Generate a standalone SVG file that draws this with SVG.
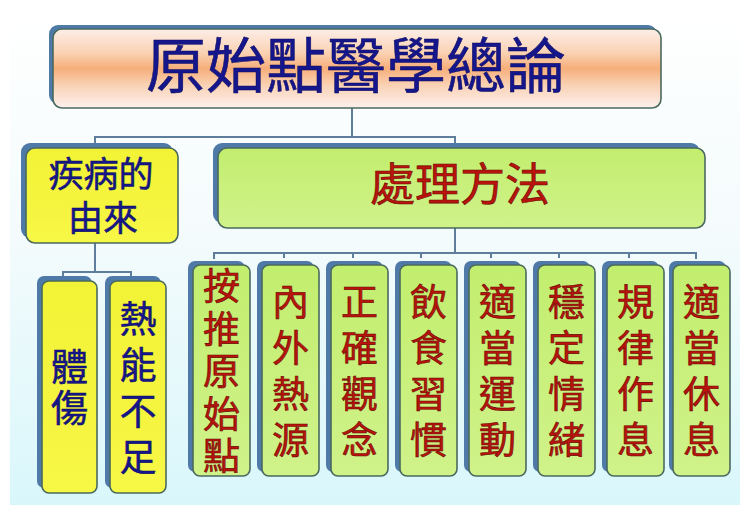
<svg xmlns="http://www.w3.org/2000/svg" width="750" height="515" viewBox="0 0 750 515">
<defs>
<linearGradient id="bg" x1="0" y1="0" x2="0" y2="1">
<stop offset="0" stop-color="#ffffff"/>
<stop offset="0.45" stop-color="#f4fbfc"/>
<stop offset="1" stop-color="#d9f7fb"/>
</linearGradient>
<linearGradient id="titleFill" x1="0" y1="0" x2="0" y2="1">
<stop offset="0" stop-color="#fdeee8"/>
<stop offset="0.3" stop-color="#fad2b4"/>
<stop offset="0.5" stop-color="#f6ae7a"/>
<stop offset="0.7" stop-color="#f9d0b2"/>
<stop offset="1" stop-color="#fdf0ee"/>
</linearGradient>
<linearGradient id="greenFill" x1="0" y1="0" x2="0" y2="1">
<stop offset="0" stop-color="#c2ee6e"/>
<stop offset="1" stop-color="#d0f28a"/>
</linearGradient>
<linearGradient id="yellowFill" x1="0" y1="0" x2="0" y2="1">
<stop offset="0" stop-color="#f2f236"/>
<stop offset="1" stop-color="#f7f746"/>
</linearGradient>
</defs>
<style>
.shadow{fill:#4f7aa8;}
.box{stroke:#4a6a5e;stroke-width:1.6;}
.title{fill:url(#titleFill);}
.green{fill:url(#greenFill);}
.yellow{fill:url(#yellowFill);}
.conn{fill:none;stroke:#5e7e9c;stroke-width:2;}
.navy{font-family:"Noto Sans CJK TC","Noto Sans CJK SC",sans-serif;fill:#16168c;stroke:#0c0c5a;stroke-width:0.5;text-anchor:middle;font-weight:400;}
.red{font-family:"Noto Sans CJK TC","Noto Sans CJK SC",sans-serif;fill:#b8140c;stroke:#6a0804;stroke-width:0.6;text-anchor:middle;font-weight:400;}
.v{font-size:37px;writing-mode:vertical-rl;text-anchor:start;}
.s4{letter-spacing:9px;}
.s5{letter-spacing:5.5px;}
.s2{letter-spacing:4px;}
</style>
<rect width="750" height="515" fill="#ffffff"/>
<rect x="10" y="10" width="730" height="495" fill="url(#bg)"/>

<g id="connectors">
<path class="conn" d="M352 108 V137"/>
<path class="conn" d="M95 145 V137 H455 V145"/>
<path class="conn" d="M95 243 V272"/>
<path class="conn" d="M63 278 V272 H131 V278"/>
<path class="conn" d="M455 228 V253"/>
<path class="conn" d="M214 259 V253 H696 V259"/>
<path class="conn" d="M284 253 V258 M353 253 V258 M421 253 V258 M491 253 V258 M559 253 V258 M629 253 V258"/>
</g>

<g id="title">
<rect class="shadow" x="49" y="25" width="608" height="79" rx="9"/>
<rect class="box title" x="53" y="29" width="608" height="79" rx="9"/>
<text class="navy" x="356" y="88" font-size="60">原始點醫學總論</text>
</g>

<g id="cause">
<rect class="shadow" x="21" y="143" width="152" height="95" rx="9"/>
<rect class="box yellow" x="26" y="148" width="152" height="95" rx="9"/>
<text class="navy" font-size="35"><tspan x="101" y="187">疾病的</tspan><tspan x="103" y="231">由來</tspan></text>
</g>

<g id="method">
<rect class="shadow" x="213" y="143" width="487" height="80" rx="9"/>
<rect class="box green" x="218" y="148" width="487" height="80" rx="9"/>
<text class="red" x="460" y="201" font-size="45">處理方法</text>
</g>

<g id="body-injury">
<rect class="shadow" x="37" y="276" width="55" height="212" rx="7"/>
<rect class="box yellow" x="42" y="281" width="55" height="212" rx="7"/>
<text class="navy v s2" x="69.5" y="348.5">體傷</text>
</g>

<g id="heat-deficit">
<rect class="shadow" x="105" y="276" width="56" height="212" rx="7"/>
<rect class="box yellow" x="110" y="281" width="56" height="212" rx="7"/>
<text class="navy v s4" x="138" y="300.5">熱能不足</text>
</g>

<g id="m1">
<rect class="shadow" x="188" y="261" width="57" height="211" rx="7"/>
<rect class="box green" x="193" y="265" width="57" height="211" rx="7"/>
<text class="red v s5" x="221.5" y="267.5">按推原始點</text>
</g>

<g id="m2">
<rect class="shadow" x="257" y="261" width="57" height="211" rx="7"/>
<rect class="box green" x="262" y="265" width="57" height="211" rx="7"/>
<text class="red v s4" x="290.5" y="283.5">內外熱源</text>
</g>

<g id="m3">
<rect class="shadow" x="326" y="261" width="57" height="211" rx="7"/>
<rect class="box green" x="331" y="265" width="57" height="211" rx="7"/>
<text class="red v s4" x="359.5" y="283.5">正確觀念</text>
</g>

<g id="m4">
<rect class="shadow" x="395" y="261" width="57" height="211" rx="7"/>
<rect class="box green" x="400" y="265" width="57" height="211" rx="7"/>
<text class="red v s4" x="428.5" y="283.5">飲食習慣</text>
</g>

<g id="m5">
<rect class="shadow" x="464" y="261" width="57" height="211" rx="7"/>
<rect class="box green" x="469" y="265" width="57" height="211" rx="7"/>
<text class="red v s4" x="497.5" y="283.5">適當運動</text>
</g>

<g id="m6">
<rect class="shadow" x="533" y="261" width="57" height="211" rx="7"/>
<rect class="box green" x="538" y="265" width="57" height="211" rx="7"/>
<text class="red v s4" x="566.5" y="283.5">穩定情緒</text>
</g>

<g id="m7">
<rect class="shadow" x="602" y="261" width="57" height="211" rx="7"/>
<rect class="box green" x="607" y="265" width="57" height="211" rx="7"/>
<text class="red v s4" x="635.5" y="283.5">規律作息</text>
</g>

<g id="m8">
<rect class="shadow" x="669" y="261" width="57" height="211" rx="7"/>
<rect class="box green" x="673" y="265" width="57" height="211" rx="7"/>
<text class="red v s4" x="701.5" y="283.5">適當休息</text>
</g>
</svg>
